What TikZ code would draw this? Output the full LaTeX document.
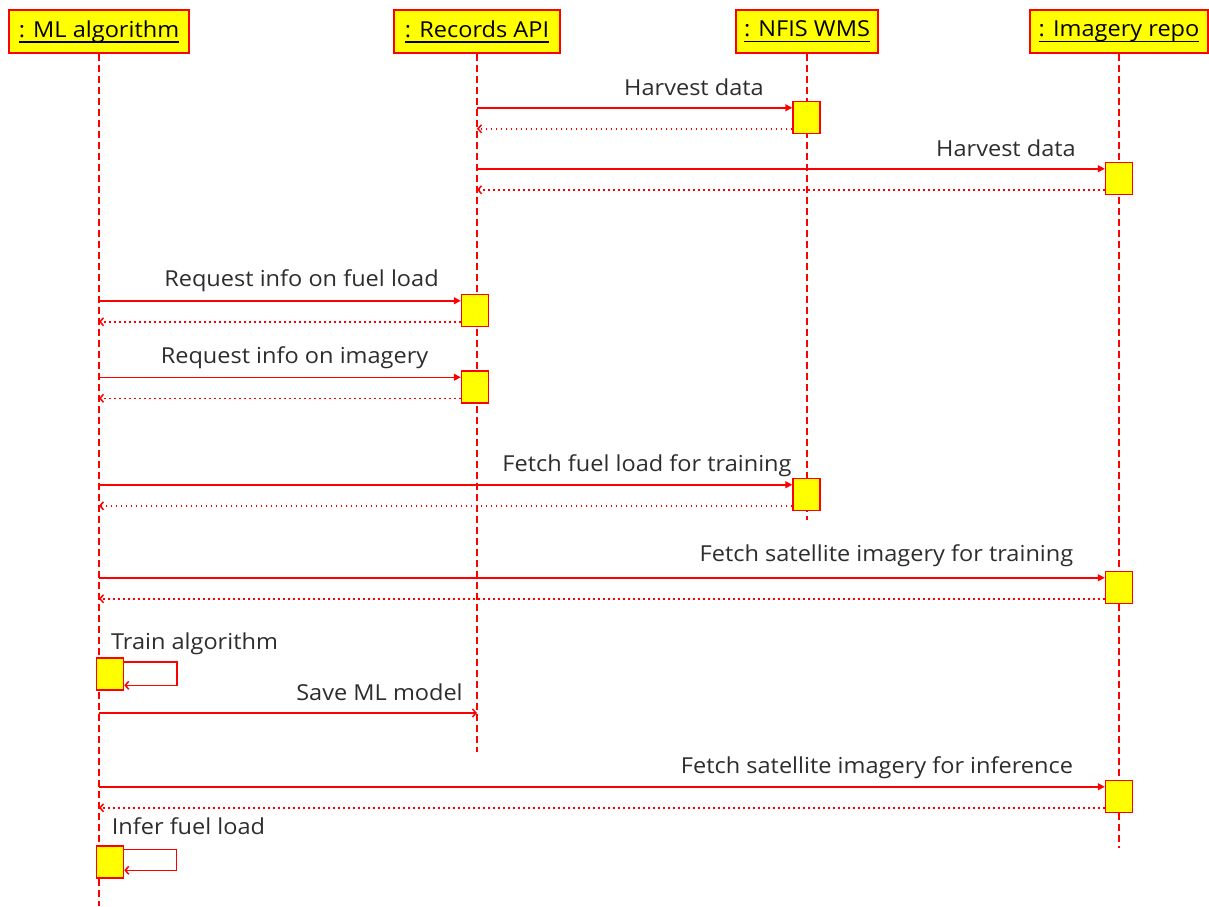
\documentclass[tikz,border=0pt]{standalone}
\usepackage{fontspec}
\setmainfont[FakeStretch=1.07]{Open Sans}
\newcommand\myul[1]{\setbox0\hbox{#1}\rlap{\rule[-5.5pt]{\wd0}{1.4pt}}\box0}
\usetikzlibrary{arrows.meta,calc}
\definecolor{umlred}{RGB}{255,0,0}
\definecolor{umlyellow}{RGB}{255,255,0}
\definecolor{txt}{RGB}{45,45,45}
\begin{document}
\begin{tikzpicture}[x=1pt,y=-1pt,
  every node/.style={font=\fontsize{22}{25}\selectfont},
  head/.style={draw=umlred, fill=umlyellow, line width=1.5pt, minimum height=43pt, inner sep=0pt, text=black},
  life/.style={draw=umlred, line width=1.5pt, dash pattern=on 7pt off 4pt},
  act/.style={draw=umlred, fill=umlyellow, line width=1.5pt, minimum width=27pt, minimum height=32pt, inner sep=0pt},
  msg/.style={draw=umlred, line width=1.5pt, -{Triangle[length=7pt,width=7pt]}},
  ret/.style={draw=umlred, line width=1.5pt, dash pattern=on 1.5pt off 3.5pt, -{Straight Barb[length=3.5pt,width=8pt]}},
  opn/.style={draw=umlred, line width=1.5pt, -{Straight Barb[length=3.5pt,width=8pt]}},
  lbl/.style={text=txt, inner sep=0pt, anchor=base},
]
\useasboundingbox (0,0) rectangle (1209,906);

% headers
\node[head, minimum width=180pt] (ml)  at (99,31.5)   {\myul{: ML algorithm}};
\node[head, minimum width=166pt] (rec) at (477,31.5)  {\myul{: Records API}};
\node[head, minimum width=142pt] (wms) at (807,31.5)  {\myul{: NFIS WMS}};
\node[head, minimum width=178pt] (img) at (1119,31.5) {\myul{: Imagery repo}};

% lifeline ends
\coordinate (mlE)  at (99,906);
\coordinate (recE) at (477,752);
\coordinate (wmsE) at (807,520);
\coordinate (imgE) at (1119,848);

\draw[life] (ml.south)  -- (mlE);
\draw[life] (rec.south) -- (recE);
\draw[life] (wms.south) -- (wmsE);
\draw[life] (img.south) -- (imgE);

% activation boxes
\node[act] (a1) at (806.5,117.5) {};
\node[act] (a2) at (1119,178.5) {};
\node[act] (a3) at (475,310.5) {};
\node[act] (a4) at (475,387) {};
\node[act] (a5) at (806.5,494.5) {};
\node[act] (a6) at (1119,587.5) {};
\node[act] (a7) at (110,674) {};
\node[act] (a9) at (1119,796.5) {};
\node[act] (a10) at (110,862) {};

% message coordinates
\foreach \a in {a1,a2,a3,a4,a5,a6,a9}{
  \path (\a.north west) ++(0,7) coordinate (\a m);
  \path (\a.north west) ++(0,28) coordinate (\a r);
}

% 1
\draw[msg] (a1m -| rec) -- (a1m);
\draw[ret] (a1r) -- (a1r -| rec);
\node[lbl] (t1) at (694,95) {Harvest data};
% 2
\draw[msg] (a2m -| rec) -- (a2m);
\draw[ret] (a2r) -- (a2r -| rec);
\node[lbl] (t2) at (1006,156) {Harvest data};
% 3
\draw[msg] (a3m -| ml) -- (a3m);
\draw[ret] (a3r) -- (a3r -| ml);
\node[lbl] (t3) at (301.5,286) {Request info on fuel load};
% 4
\draw[msg] (a4m -| ml) -- (a4m);
\draw[ret] (a4r) -- (a4r -| ml);
\node[lbl] (t4) at (294.5,363) {Request info on imagery};
% 5
\draw[msg] (a5m -| ml) -- (a5m);
\draw[ret] (a5r) -- (a5r -| ml);
\node[lbl] (t5) at (647,471) {Fetch fuel load for training};
% 6
\draw[msg] (a6m -| ml) -- (a6m);
\draw[ret] (a6r) -- (a6r -| ml);
\node[lbl] (t6) at (886.5,561) {Fetch satellite imagery for training};
% 7 self call
\path (a7.north east) ++(0,4.5) coordinate (s7a);
\path (a7.north east) ++(0,28) coordinate (s7b);
\draw[opn] (s7a) -- ++(52.5,0) |- (s7b);
\node[lbl] (t7) at (194.5,649) {Train algorithm};
% 8 save
\coordinate (sv) at (99,713);
\draw[opn] (sv -| ml) -- (sv -| rec);
\node[lbl] (t8) at (379.5,700) {Save ML model};
% 9
\draw[msg] (a9m -| ml) -- (a9m);
\draw[ret] (a9r) -- (a9r -| ml);
\node[lbl] (t9) at (877,773) {Fetch satellite imagery for inference};
% 10 self call
\path (a10.north east) ++(0,4) coordinate (s10a);
\path (a10.north east) ++(0,25) coordinate (s10b);
\draw[opn] (s10a) -- ++(52,0) |- (s10b);
\node[lbl] (t10) at (188.5,834) {Infer fuel load};
\end{tikzpicture}
\end{document}
